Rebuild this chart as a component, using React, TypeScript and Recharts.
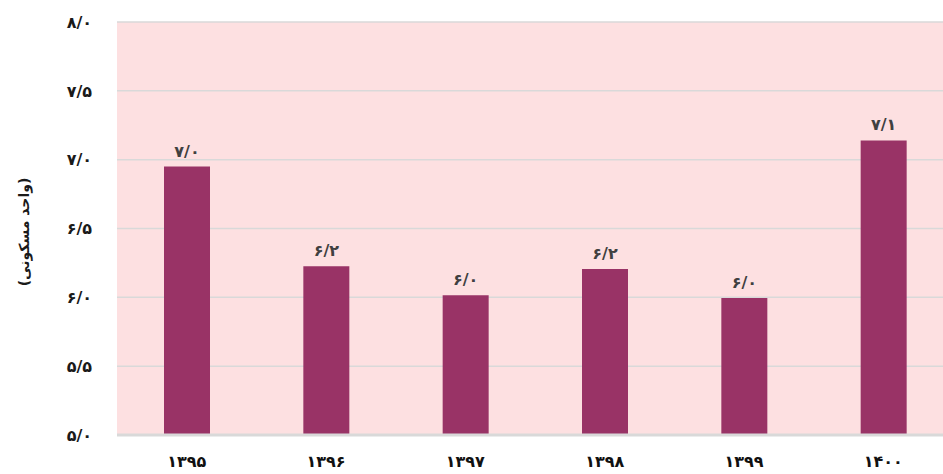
import React from "react";
import { BarChart, Bar, XAxis, YAxis, CartesianGrid, LabelList, Label } from "recharts";

const years = ["۱۳۹۵", "۱۳۹۶", "۱۳۹۷", "۱۳۹۸", "۱۳۹۹", "۱۴۰۰"];
const values = [6.95, 6.225, 6.015, 6.205, 5.995, 7.14];
const valueLabels = ["۷/۰", "۶/۲", "۶/۰", "۶/۲", "۶/۰", "۷/۱"];
const yTicks = [5, 5.5, 6, 6.5, 7, 7.5, 8];
const yTitle = "(واحد مسکونی)";

const data = years.map((y, i) => ({ year: y, value: values[i], label: valueLabels[i] }));

const FA = "۰۱۲۳۴۵۶۷۸۹";
const toFa = (v: number) =>
  v.toFixed(1).replace(".", "/").replace(/[0-9]/g, (d) => FA[Number(d)]);

const FONT = "DejaVu Sans";

const YTitle = () => (
  <text
    x={24}
    y={232}
    transform="rotate(-90, 24, 232)"
    textAnchor="middle"
    dominantBaseline="central"
    fontFamily={FONT}
    fontWeight="bold"
    fontSize={14}
    fill="#1a1a1a"
  >
    {yTitle}
  </text>
);

export default function App() {
  return (
    <div style={{ position: "absolute", left: 0, top: 0, width: 943, height: 474, overflow: "hidden", background: "#fff" }}>
      <BarChart
        width={943}
        height={474}
        data={data}
        margin={{ top: 22, right: -10, bottom: 0, left: 0 }}
        barCategoryGap={0}
      >
        <CartesianGrid
          vertical={false}
          horizontal={true}
          fill="#fde0e1"
          stroke="#d9d9d9"
          strokeWidth={1.5}
        />
        <XAxis
          dataKey="year"
          height={39}
          tickLine={false}
          tickSize={0}
          tickMargin={21}
          axisLine={{ stroke: "#d9d9d9", strokeWidth: 3 }}
          tick={{ fontFamily: FONT, fontWeight: "bold", fontSize: 16, fill: "#111" }}
        />
        <YAxis
          width={117}
          domain={[5, 8]}
          ticks={yTicks}
          allowDataOverflow
          tickFormatter={toFa}
          axisLine={false}
          tickLine={false}
          tickSize={0}
          tickMargin={25}
          tick={{ fontFamily: FONT, fontWeight: "bold", fontSize: 16, fill: "#1a1a1a" }}
        >
          <Label content={<YTitle />} />
        </YAxis>
        <Bar dataKey="value" fill="#993366" barSize={46} isAnimationActive={false}>
          <LabelList
            dataKey="label"
            position="top"
            offset={10}
            style={{ fontFamily: FONT, fontWeight: "bold", fontSize: 16, fill: "#404040" }}
          />
        </Bar>
      </BarChart>
    </div>
  );
}
